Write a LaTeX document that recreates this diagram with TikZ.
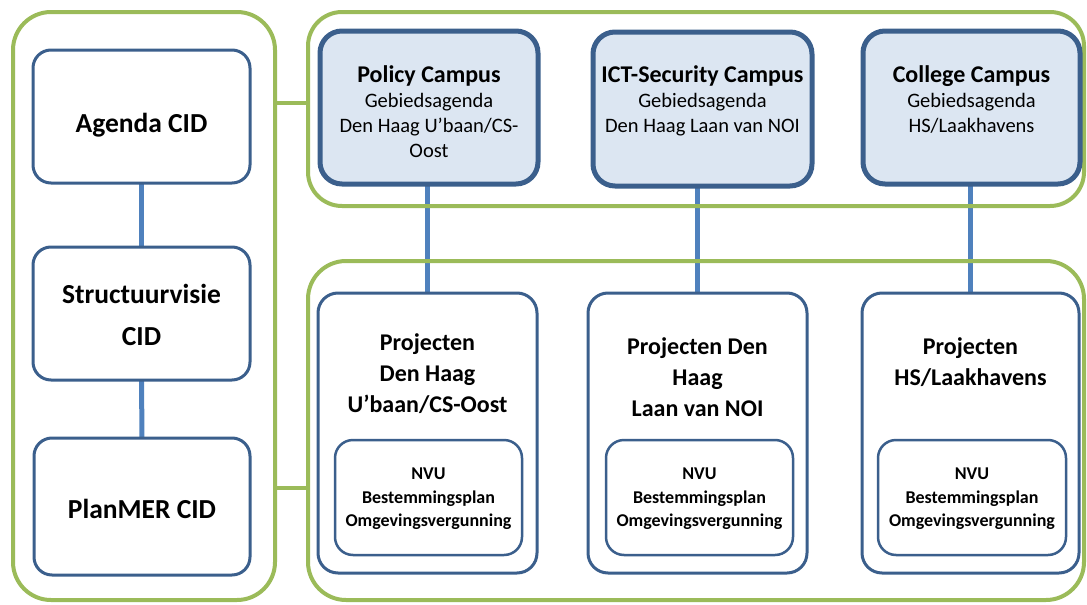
\documentclass[tikz,border=0pt]{standalone}
\usepackage{fontspec}
\setmainfont{Carlito}
\usetikzlibrary{backgrounds}
\definecolor{grpgreen}{HTML}{9BBB59}
\definecolor{edgeblue}{HTML}{3B5F8C}
\definecolor{linkblue}{HTML}{4F81BD}
\definecolor{campusfill}{HTML}{DCE6F2}
\tikzset{
  boxbase/.style={rectangle, anchor=north west, inner sep=0pt, outer sep=0pt},
  group/.style={boxbase, draw=grpgreen, line width=4pt, rounded corners=38pt},
  cidbox/.style={boxbase, draw=edgeblue, line width=3pt, rounded corners=18pt, fill=white},
  campusbox/.style={boxbase, draw=edgeblue, line width=5pt, rounded corners=22pt, fill=campusfill},
  projbox/.style={boxbase, draw=edgeblue, line width=3pt, rounded corners=20pt, fill=white},
  nvubox/.style={boxbase, draw=edgeblue, line width=2.5pt, rounded corners=18pt},
  bluelink/.style={draw=linkblue, line width=5pt},
  greenlink/.style={draw=grpgreen, line width=4pt},
  cidtext/.style={inner sep=0pt, align=center, font={\fontsize{27.5}{42}\selectfont\bfseries}},
  campustext/.style={inner sep=0pt, anchor=north, align=center, font={\fontsize{20.5}{25}\selectfont}},
  projtext/.style={inner sep=0pt, anchor=north, align=center, font={\fontsize{24}{31}\selectfont\bfseries}},
  nvutext/.style={inner sep=0pt, anchor=north, align=center, font={\fontsize{18}{23.5}\selectfont\bfseries}},
}
\newcommand{\campustitle}[1]{{\fontsize{24}{25}\selectfont\bfseries #1}}
\begin{document}
\begin{tikzpicture}[x=1pt,y=-1pt]
\useasboundingbox (0,0) rectangle (1087,605);

% green groups
\node[group, minimum width=262pt, minimum height=588pt] (leftgrp) at (13,12) {};
\node[group, rounded corners=34pt, minimum width=776pt, minimum height=194pt] (topgrp) at (308,12) {};
\node[group, minimum width=776pt, minimum height=339pt] (botgrp) at (308,261) {};

% CID column
\node[cidbox, minimum width=217pt, minimum height=133pt] (agenda) at (33,50) {};
\node[cidbox, minimum width=217pt, minimum height=133pt] (struct) at (33,247) {};
\node[cidbox, minimum width=216pt, minimum height=137pt] (planmer) at (34,438) {};

\node[cidtext, anchor=base] (agendaT) at (141.5,132) {Agenda CID};
\node[cidtext, anchor=north] (structT) at (141.5,284) {Structuurvisie\\CID};
\node[cidtext, anchor=base] (planmerT) at (142,518) {PlanMER CID};

% campuses
\node[campusbox, minimum width=218pt, minimum height=153pt] (policy) at (320,31) {};
\node[campusbox, minimum width=219pt, minimum height=154pt] (ict) at (593,32) {};
\node[campusbox, minimum width=217pt, minimum height=153pt] (college) at (863,31) {};

\node[campustext] (policyT) at (429,65) {\campustitle{Policy Campus}\\Gebiedsagenda\\Den Haag U’baan/CS-\\Oost};
\node[campustext] (ictT) at (702.5,65.5) {\campustitle{ICT-Security Campus}\\Gebiedsagenda\\Den Haag Laan van NOI};
\node[campustext] (collegeT) at (971.5,65) {\campustitle{College Campus}\\Gebiedsagenda\\HS/Laakhavens};

% projects
\node[projbox, minimum width=219pt, minimum height=280pt] (proj1) at (318,293) {};
\node[projbox, minimum width=219pt, minimum height=280pt] (proj2) at (588,293) {};
\node[projbox, minimum width=217pt, minimum height=280pt] (proj3) at (862,293) {};

\node[projtext] (proj1T) at (427.5,333) {Projecten\\Den Haag\\U’baan/CS-Oost};
\node[projtext] (proj2T) at (697.5,337) {Projecten Den\\Haag\\Laan van NOI};
\node[projtext] (proj3T) at (970.5,337) {Projecten\\HS/Laakhavens};

\node[nvubox, minimum width=187pt, minimum height=115pt] (nvu1) at (335,440) {};
\node[nvubox, minimum width=187pt, minimum height=115pt] (nvu2) at (606,440) {};
\node[nvubox, minimum width=188pt, minimum height=115pt] (nvu3) at (878,440) {};

\node[nvutext] (nvu1T) at (nvu1.north |- 0,468) {NVU\\Bestemmingsplan\\Omgevingsvergunning};
\node[nvutext] (nvu2T) at (nvu2.north |- 0,468) {NVU\\Bestemmingsplan\\Omgevingsvergunning};
\node[nvutext] (nvu3T) at (nvu3.north |- 0,468) {NVU\\Bestemmingsplan\\Omgevingsvergunning};

% connectors
\coordinate (upperjoin) at (0,103);
\coordinate (lowerjoin) at (0,488);
\begin{pgfonlayer}{background}
  \draw[bluelink] (agenda.south) -- (struct.north);
  \draw[bluelink] (struct.south) -- (planmer.north);
  \draw[bluelink] (proj1.north) -- (proj1.north |- policy.south);
  \draw[bluelink] (proj2.north) -- (proj2.north |- ict.south);
  \draw[bluelink] (proj3.north) -- (proj3.north |- college.south);
  \draw[greenlink] (leftgrp.east |- upperjoin) -- (topgrp.west |- upperjoin);
  \draw[greenlink] (leftgrp.east |- lowerjoin) -- (botgrp.west |- lowerjoin);
\end{pgfonlayer}
\end{tikzpicture}
\end{document}
